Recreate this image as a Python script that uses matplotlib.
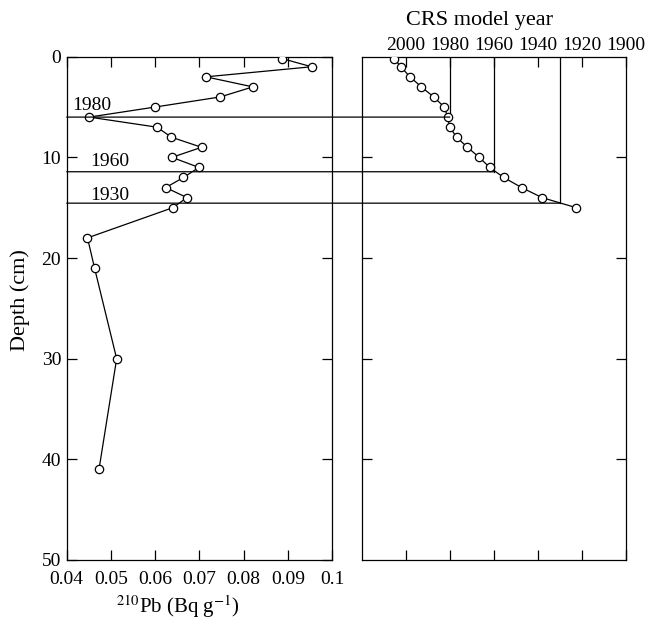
import numpy as np
import matplotlib.pyplot as plt
from matplotlib.patches import ConnectionPatch

plt.rcParams['font.family'] = ['Liberation Serif', 'DejaVu Serif']
plt.rcParams['mathtext.fontset'] = 'stix'

# 210Pb activity profile
pb_depth = [0.2, 1, 2, 3, 4, 5, 6, 7, 8, 9, 10, 11, 12, 13, 14, 15, 18, 21, 30, 41]
pb_activity = [0.0888, 0.0954, 0.0715, 0.0821, 0.0747, 0.0600, 0.0451, 0.0604,
               0.0637, 0.0705, 0.0638, 0.0699, 0.0664, 0.0624, 0.0672, 0.0640,
               0.0447, 0.0463, 0.0513, 0.0473]

# CRS model ages
crs_depth = [0.2, 1, 2, 3, 4, 5, 6, 7, 8, 9, 10, 11, 12, 13, 14, 15]
crs_year = [2005.2, 2002.2, 1998.1, 1992.9, 1987.3, 1982.5, 1981.0, 1980.0,
            1976.9, 1972.0, 1966.6, 1961.9, 1955.5, 1947.4, 1938.1, 1922.6]

# marker horizons
mark_year = [1980, 1960, 1930]
mark_depth = [6.0, 11.43, 14.55]
mark_label = ['1980', '1960', '1930']
mark_text_xy = [(0.0412, 5.3), (0.0453, 10.9), (0.0453, 14.2)]

fig = plt.figure(figsize=(6.48, 6.23), dpi=100)
ax1 = fig.add_axes([66.7/648, 1-560/623, 265.3/648, 503.3/623])
ax2 = fig.add_axes([361.7/648, 1-560/623, 264.3/648, 503.3/623])

mk = dict(marker='o', ms=6, mfc='white', mec='black', mew=0.9,
          color='black', lw=0.9)

ax1.plot(pb_activity, pb_depth, **mk, zorder=3)
ax1.set_xlim(0.04, 0.1)
ax1.set_ylim(50, 0)
ax1.set_xticks(np.arange(0.04, 0.1001, 0.01))
ax1.set_xticklabels(['0.04', '0.05', '0.06', '0.07', '0.08', '0.09', '0.1'])
ax1.set_yticks([0, 10, 20, 30, 40, 50])
ax1.tick_params(direction='in', length=7, width=0.9, top=True, right=True,
                labelsize=14)
ax1.tick_params(axis='x', pad=8)
ax1.tick_params(axis='y', pad=4)
for (tx, ty), lab in zip(mark_text_xy, mark_label):
    ax1.text(tx, ty, lab, fontsize=14, ha='left', va='baseline')

ax2.plot(crs_year, crs_depth, **mk, zorder=3)
ax2.set_xlim(2020, 1900)
ax2.set_ylim(50, 0)
ax2.set_xticks([2000, 1980, 1960, 1940, 1920, 1900])
ax2.set_yticks([10, 20, 30, 40])
ax2.tick_params(direction='in', length=7, width=0.9, top=True, right=True,
                labeltop=True, labelbottom=False, labelleft=False,
                labelsize=14, pad=2)

for yr, d in zip(mark_year, mark_depth):
    ax2.plot([yr, yr], [0, d], color='black', lw=0.9)
    con = ConnectionPatch(xyA=(0.04, d), coordsA=ax1.transData,
                          xyB=(yr, d), coordsB=ax2.transData,
                          color='black', lw=0.9)
    fig.add_artist(con)

for ax in (ax1, ax2):
    for sp in ax.spines.values():
        sp.set_linewidth(0.9)

fig.text(480/648, 1-20/623, 'CRS model year', fontsize=16, ha='center', va='center')
fig.text(178/648, 1-607/623, r'$^{210}$Pb (Bq g$^{-1}$)', fontsize=15,
         ha='center', va='center')
fig.text(20/648, 1-300/623, 'Depth (cm)', fontsize=16, rotation=90,
         ha='center', va='center')

fig.savefig('out.png', dpi=100)
